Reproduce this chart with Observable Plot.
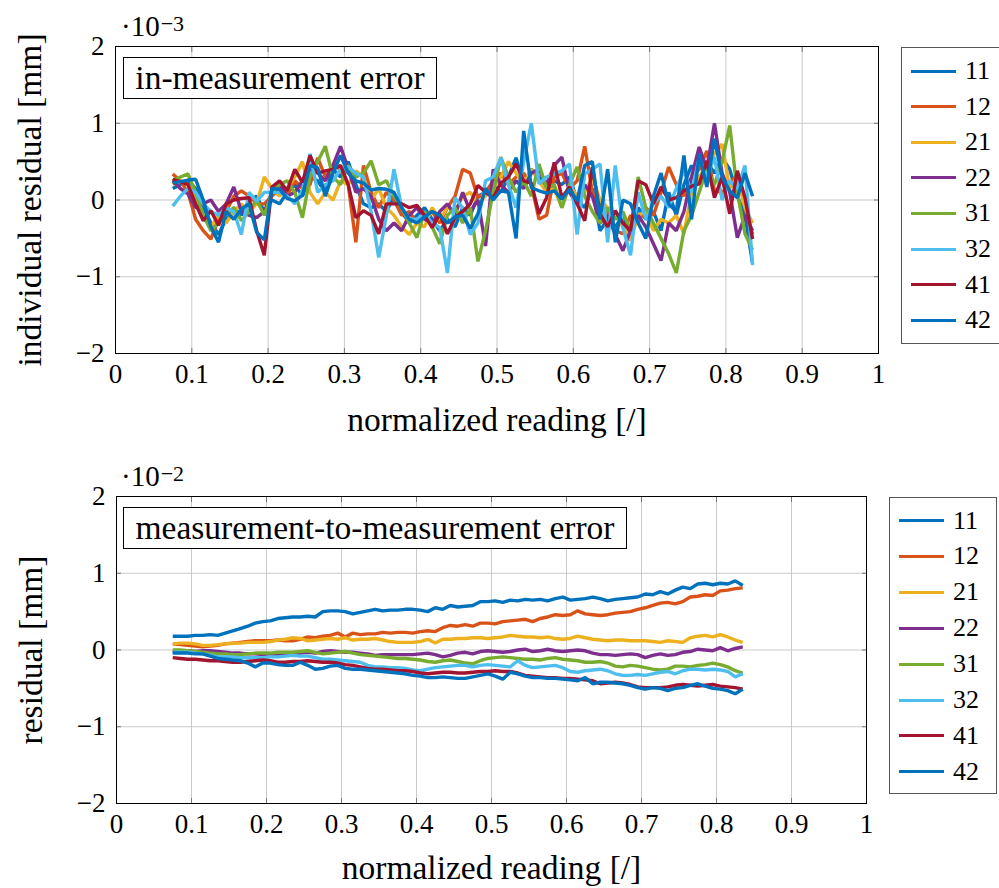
<!DOCTYPE html>
<html>
<head>
<meta charset="utf-8">
<script src="https://cdn.jsdelivr.net/npm/d3@7"></script>
<script src="https://cdn.jsdelivr.net/npm/@observablehq/plot@0.6"></script>
<style>
  body { margin: 0; background: #fff; }
  #fig { position: relative; width: 999px; height: 888px; overflow: hidden; background: #fff;
         font-family: "Liberation Serif", serif; color: #000; }
  #fig > svg { position: absolute; left: 0; }
  .note { position: absolute; box-sizing: border-box; border: 1.3px solid #000; background: #fff;
          font-size: 33.5px; line-height: 1; display: flex; align-items: center; justify-content: center;
          white-space: nowrap; }
  .expo { position: absolute; font-size: 29px; line-height: 1; white-space: nowrap; }
  .expo sup { font-size: 22px; position: relative; top: -5px; vertical-align: baseline; margin-left: 1px; }
  .legend { position: absolute; box-sizing: border-box; border: 1px solid #555; background: #fff; }
  .legend .swatch { position: absolute; width: 45px; height: 3px; }
  .legend .lab { position: absolute; font-size: 26px; line-height: 1; transform: translateY(-50%); }
</style>
</head>
<body>
<div id="fig"></div>
<script>
// Shared abscissa: normalized reading [/]
const reading = [0.075,0.085,0.095,0.105,0.115,0.125,0.135,0.145,0.155,0.165,
  0.175,0.185,0.195,0.205,0.215,0.225,0.235,0.245,0.255,0.265,
  0.275,0.285,0.295,0.305,0.315,0.325,0.335,0.345,0.355,0.365,
  0.375,0.385,0.395,0.405,0.415,0.425,0.435,0.445,0.455,0.465,
  0.475,0.485,0.495,0.505,0.515,0.525,0.535,0.545,0.555,0.565,
  0.575,0.585,0.595,0.605,0.615,0.625,0.635,0.645,0.655,0.665,
  0.675,0.685,0.695,0.705,0.715,0.725,0.735,0.745,0.755,0.765,
  0.775,0.785,0.795,0.805,0.815,0.825,0.835];

// Series identifiers and their line colours
const seriesIds = ["11","12","21","22","31","32","41","42"];
const seriesColors = ["#0072BD","#D95319","#EDB120","#7E2F8E","#77AC30","#4DBEEE","#A2142F","#0072BD"];

// In-measurement error, individual residual in units of 1e-3 mm
const inm11 = [.15,.20,.25,.15,-.10,-.30,-.45,-.25,-.10,-.20,
  .00,.05,-.15,.00,-.05,.10,.20,.05,.30,.25,
  .10,.40,.30,.50,.20,-.05,-.10,-.05,-.15,.05,
  -.15,-.30,-.20,-.10,-.25,-.40,-.25,-.35,-.10,-.20,
  .05,.10,.20,.10,.30,.55,.20,.40,.30,.15,
  .25,.20,.30,.00,-.10,.15,-.40,-.25,-.35,-.20,
  -.45,-.10,-.25,-.15,-.40,.10,-.20,.20,.45,.25,
  .50,.35,.55,.40,.05,-.20,-.83];
const inm12 = [.34,.25,.10,-.25,-.40,-.51,-.25,-.15,.05,.12,
  .05,-.05,-.05,.05,.15,.05,.25,.15,.20,.55,
  .30,.45,.40,.20,-.55,.45,.10,-.10,.10,.00,
  -.20,-.15,-.30,-.20,-.15,-.30,-.10,.05,.40,.35,
  .03,.10,.25,.35,.20,.30,.35,.20,-.25,-.20,
  .30,.35,.15,.25,.70,.10,-.05,-.15,-.40,-.44,
  -.20,-.30,-.10,-.20,.10,.43,.20,.05,.30,.40,
  .64,.12,.10,.20,.35,-.10,-.45];
const inm21 = [.20,.25,.20,.05,-.20,-.35,-.20,-.30,-.15,-.05,
  -.15,-.05,.30,.15,.05,.15,.30,.50,.10,-.05,
  .10,.00,.25,.20,.38,.30,.00,.15,-.10,-.20,
  -.35,-.45,-.30,-.35,-.10,-.25,-.10,-.15,.05,.10,
  -.05,.05,.15,.30,.50,.35,.20,.40,.25,.10,
  .15,-.10,.20,.05,.10,.30,.00,-.10,-.20,-.35,
  -.53,-.20,-.15,-.40,-.25,-.30,-.20,-.44,.10,.30,
  .45,.60,.73,.15,.30,-.10,-.30];
const inm22 = [.25,.15,.08,-.10,-.05,.00,-.15,-.05,.17,-.15,
  -.20,-.23,-.15,.10,.20,.05,.10,.25,.40,.35,
  .25,.45,.70,.40,.10,.15,.05,-.25,-.40,-.30,
  -.40,-.20,-.10,-.25,-.30,-.15,-.05,-.20,.10,-.15,
  .00,-.60,.40,.20,.10,.25,.15,.35,.40,.20,
  .45,.56,.10,-.05,.20,.05,-.30,-.20,-.45,-.66,
  -.40,-.20,-.35,-.57,-.79,-.30,-.40,-.15,.30,.69,
  .40,1.00,.35,.10,-.49,-.20,-.40];
const inm31 = [.25,.30,.34,.10,-.20,-.40,-.30,-.20,-.10,-.27,
  -.15,.00,-.20,.10,.20,.25,.10,-.23,.30,.50,
  .70,.30,.20,.45,.30,.35,.51,.20,.25,.05,
  -.10,-.30,-.49,-.15,-.35,-.57,-.20,-.10,-.30,-.10,
  -.80,-.40,.10,.56,.30,.10,.25,.05,.47,.15,
  .20,-.10,.20,.43,.05,-.15,-.30,-.10,-.25,-.15,
  -.40,.30,-.10,-.30,-.50,-.70,-.95,-.40,-.20,.10,
  .40,.20,.50,.97,.10,-.44,-.65];
const inm32 = [-.08,.05,.15,.10,-.05,-.15,-.20,-.10,-.15,-.45,
  .10,-.02,.10,.10,.10,.05,-.05,.12,.60,.10,
  .20,.25,.40,.43,.35,.30,-.15,-.75,-.20,.40,
  -.10,-.25,-.25,-.18,-.30,-.36,-.95,.03,-.10,-.45,
  -.30,.25,.30,.55,.20,-.10,.50,1.00,.21,.30,
  .34,.38,.47,-.45,.34,.40,.47,-.55,.45,-.36,
  -.72,.10,-.25,-.05,.05,-.10,.15,.38,.10,.55,
  .30,.56,.00,.25,.15,.45,-.85];
const inm41 = [.27,.24,.20,-.05,-.27,-.14,-.33,-.05,.00,.02,
  .03,-.40,-.72,.17,.25,.12,.40,.23,.58,.35,
  .38,.40,.45,.20,-.23,-.14,-.20,-.44,-.05,-.05,
  -.05,-.10,-.07,-.20,-.36,-.18,-.44,-.23,-.15,-.05,
  .19,.10,.03,.22,.30,.47,.25,.22,-.18,.03,
  .49,.03,.17,-.05,-.27,.43,-.18,-.35,-.14,-.30,
  -.40,.25,.20,-.05,.17,.00,.03,.12,.18,.21,
  .51,.03,.30,-.18,.38,.03,-.51];
const inm42 = [.22,.24,.26,.27,.00,-.35,-.55,-.15,-.25,-.12,
  -.05,-.42,-.52,.15,.14,.02,-.01,.06,.45,.42,
  .05,.35,.58,.35,.25,.22,.13,.15,.14,.10,
  -.10,-.25,-.30,-.22,-.15,-.20,-.30,-.22,-.20,-.37,
  -.18,.15,.00,.12,.10,-.50,.90,.16,.12,.09,
  .12,.01,.14,-.01,.45,.50,-.25,.40,-.55,.00,
  -.05,-.30,-.50,.05,.35,-.05,-.15,.58,-.25,.60,
  .17,.80,.30,.12,.03,.35,.05];

// Measurement-to-measurement error, residual in units of 1e-2 mm
const m2m11 = [.18,.18,.18,.19,.19,.20,.19,.22,.25,.28,
  .31,.35,.37,.38,.41,.42,.43,.43,.44,.43,
  .50,.51,.51,.50,.47,.49,.51,.53,.51,.52,
  .52,.53,.53,.52,.50,.55,.53,.58,.56,.57,
  .58,.63,.63,.64,.62,.65,.64,.66,.65,.66,
  .64,.67,.69,.65,.66,.67,.69,.67,.64,.66,
  .67,.68,.69,.73,.72,.76,.73,.78,.82,.80,
  .86,.87,.85,.87,.86,.90,.84];
const m2m12 = [.08,.07,.06,.05,.04,.05,.06,.08,.09,.10,
  .11,.12,.12,.12,.13,.12,.12,.14,.17,.16,
  .18,.19,.22,.17,.22,.20,.21,.21,.23,.22,
  .23,.23,.22,.24,.25,.24,.29,.32,.31,.33,
  .31,.35,.35,.34,.37,.38,.39,.40,.37,.41,
  .43,.46,.45,.46,.51,.47,.46,.45,.46,.48,
  .49,.50,.53,.55,.58,.61,.62,.60,.63,.69,
  .70,.72,.71,.77,.78,.80,.81];
const m2m21 = [.08,.09,.09,.08,.06,.06,.07,.08,.09,.09,
  .10,.10,.10,.11,.13,.14,.16,.15,.12,.13,
  .14,.15,.14,.16,.13,.14,.14,.15,.13,.11,
  .10,.10,.10,.11,.14,.09,.14,.14,.15,.15,
  .16,.16,.15,.16,.17,.19,.18,.17,.17,.16,
  .17,.15,.14,.15,.18,.16,.14,.13,.12,.13,
  .13,.12,.12,.12,.11,.10,.12,.11,.10,.16,
  .18,.19,.17,.20,.17,.13,.10];
const m2m22 = [-.02,-.02,-.01,-.02,-.01,-.01,-.02,-.03,-.04,-.04,
  -.05,-.05,-.06,-.05,-.06,-.06,-.05,-.04,-.03,-.04,
  -.02,-.01,-.02,-.03,-.03,-.04,-.05,-.07,-.06,-.06,
  -.06,-.06,-.06,-.05,-.04,-.06,-.09,-.07,-.04,-.03,
  -.05,-.02,-.01,-.02,-.03,-.02,.00,.01,-.02,-.01,
  .01,-.01,-.02,-.01,.00,-.01,-.04,-.06,-.06,-.07,
  -.06,-.05,-.06,-.10,-.07,-.05,-.07,-.06,-.03,-.02,
  .01,.00,-.01,.03,-.01,.02,.04];
const m2m31 = [.00,.00,-.01,-.02,-.03,-.04,-.05,-.05,-.06,-.06,
  -.05,-.04,-.04,-.04,-.03,-.03,-.03,-.02,-.01,-.03,
  -.05,-.04,-.03,-.02,-.04,-.06,-.07,-.08,-.09,-.10,
  -.11,-.11,-.12,-.13,-.15,-.16,-.14,-.13,-.15,-.17,
  -.18,-.14,-.11,-.10,-.09,-.10,-.11,-.12,-.12,-.13,
  -.11,-.10,-.12,-.13,-.14,-.16,-.16,-.15,-.17,-.21,
  -.22,-.20,-.21,-.23,-.25,-.26,-.25,-.21,-.21,-.22,
  -.20,-.19,-.17,-.19,-.22,-.27,-.30];
const m2m32 = [-.03,-.03,-.03,-.04,-.05,-.07,-.09,-.09,-.09,-.10,
  -.10,-.10,-.10,-.09,-.09,-.08,-.07,-.08,-.08,-.10,
  -.12,-.12,-.13,-.14,-.15,-.16,-.20,-.22,-.22,-.23,
  -.23,-.24,-.26,-.27,-.25,-.23,-.22,-.21,-.20,-.20,
  -.22,-.20,-.19,-.20,-.21,-.22,-.14,-.20,-.23,-.22,
  -.21,-.20,-.23,-.28,-.29,-.27,-.26,-.25,-.27,-.31,
  -.33,-.33,-.32,-.33,-.31,-.29,-.28,-.31,-.27,-.25,
  -.25,-.26,-.25,-.26,-.28,-.35,-.31];
const m2m41 = [-.10,-.11,-.12,-.12,-.13,-.14,-.14,-.15,-.16,-.16,
  -.15,-.14,-.13,-.14,-.16,-.16,-.15,-.15,-.14,-.15,
  -.16,-.16,-.17,-.19,-.20,-.22,-.24,-.25,-.25,-.26,
  -.27,-.27,-.28,-.30,-.31,-.30,-.29,-.29,-.30,-.30,
  -.29,-.28,-.28,-.27,-.28,-.28,-.30,-.33,-.34,-.35,
  -.36,-.36,-.37,-.37,-.38,-.39,-.40,-.44,-.43,-.42,
  -.43,-.45,-.48,-.49,-.49,-.49,-.48,-.46,-.45,-.46,
  -.47,-.46,-.45,-.47,-.48,-.49,-.51];
const m2m42 = [-.04,-.04,-.04,-.05,-.05,-.08,-.11,-.12,-.13,-.14,
  -.17,-.22,-.17,-.17,-.19,-.20,-.20,-.16,-.20,-.25,
  -.24,-.21,-.20,-.24,-.25,-.25,-.26,-.27,-.28,-.29,
  -.30,-.31,-.33,-.34,-.36,-.36,-.35,-.36,-.37,-.37,
  -.35,-.33,-.31,-.34,-.38,-.29,-.31,-.34,-.36,-.36,
  -.37,-.37,-.38,-.39,-.40,-.36,-.44,-.42,-.42,-.43,
  -.44,-.46,-.49,-.51,-.49,-.50,-.53,-.50,-.49,-.46,
  -.44,-.47,-.50,-.51,-.53,-.57,-.51];

// Axis ticks and their labels
const xTicks = [0,0.1,0.2,0.3,0.4,0.5,0.6,0.7,0.8,0.9,1];
const xTickLabels = ["0","0.1","0.2","0.3","0.4","0.5","0.6","0.7","0.8","0.9","1"];
const yTicks = [-2,-1,0,1,2];
const yTickLabels = ["\u22122","\u22121","0","1","2"];

const FONT = "Liberation Serif";
const TICK_FS = 27;
const TITLE_FS = 33.5;

function toRows(seriesList) {
  const rows = [];
  seriesList.forEach((vals, k) => {
    vals.forEach((v, i) => rows.push({id: seriesIds[k], reading: reading[i], value: v}));
  });
  return rows;
}

function panel(rows, o) {
  const xLab = new Map(xTicks.map((t, i) => [t, xTickLabels[i]]));
  const yLab = new Map(yTicks.map((t, i) => [t, yTickLabels[i]]));
  const grid = {stroke: "#cacaca", strokeOpacity: 1, strokeWidth: 1};
  const inner = {stroke: "#777", strokeOpacity: 1, strokeWidth: 1, text: null, label: null};
  return Plot.plot({
    width: 999, height: o.height,
    marginLeft: o.ml, marginRight: o.mr, marginTop: o.mt, marginBottom: o.mb,
    style: {fontFamily: FONT, fontSize: TICK_FS + "px", background: "transparent", overflow: "visible"},
    x: {domain: [0, 1]},
    y: {domain: [-2, 2]},
    color: {domain: seriesIds, range: seriesColors},
    marks: [
      Plot.gridX(xTicks, grid),
      Plot.gridY(yTicks, grid),
      // short inward ticks on all four sides
      Plot.axisX(xTicks, {...inner, anchor: "bottom", tickSize: -5}),
      Plot.axisX(xTicks, {...inner, anchor: "top", tickSize: -5}),
      Plot.axisY(yTicks, {...inner, anchor: "left", tickSize: -5}),
      Plot.axisY(yTicks, {...inner, anchor: "right", tickSize: -5}),
      Plot.line(rows, {x: "reading", y: "value", z: "id", stroke: "id",
        strokeWidth: 3.4, strokeLinejoin: "miter", strokeLinecap: "butt"}),
      Plot.frame({stroke: "#000", strokeWidth: 1}),
      Plot.axisX(xTicks, {anchor: "bottom", tickSize: 0, tickPadding: 10, fontSize: TICK_FS, label: null,
        tickFormat: d => xLab.get(d)}),
      Plot.axisY(yTicks, {anchor: "left", tickSize: 0, tickPadding: 11, fontSize: TICK_FS, label: null,
        tickFormat: d => yLab.get(d)}),
      Plot.text([o.xTitle], {frameAnchor: "bottom", dy: o.xTitleDy, lineAnchor: "middle",
        text: d => d, fontSize: TITLE_FS}),
      Plot.text([o.yTitle], {frameAnchor: "left", dx: -85, rotate: -90, textAnchor: "middle",
        lineAnchor: "middle", text: d => d, fontSize: TITLE_FS})
    ]
  });
}

const fig = document.getElementById("fig");

const upperPanel = panel(toRows([inm11, inm12, inm21, inm22, inm31, inm32, inm41, inm42]), {
  height: 445, ml: 115, mr: 121, mt: 46, mb: 92,
  xTitle: "normalized reading [/]", xTitleDy: 67, yTitle: "individual residual [mm]"
});
upperPanel.style.top = "0px";
fig.appendChild(upperPanel);

const lowerPanel = panel(toRows([m2m11, m2m12, m2m21, m2m22, m2m31, m2m32, m2m41, m2m42]), {
  height: 443, ml: 116, mr: 133, mt: 51, mb: 85,
  xTitle: "normalized reading [/]", xTitleDy: 65, yTitle: "residual [mm]"
});
lowerPanel.style.top = "445px";
fig.appendChild(lowerPanel);

// Scale factor notes above each axis
function expo(left, topPx, power) {
  const d = document.createElement("div");
  d.className = "expo";
  d.style.left = left + "px";
  d.style.top = topPx + "px";
  d.innerHTML = "\u00b710<sup>\u2212" + power + "</sup>";
  fig.appendChild(d);
}
expo(121, 12, 3);
expo(121, 462, 2);

// Boxed panel titles
function note(text, left, topPx, w, h) {
  const d = document.createElement("div");
  d.className = "note";
  Object.assign(d.style, {left: left + "px", top: topPx + "px", width: w + "px", height: h + "px"});
  d.textContent = text;
  fig.appendChild(d);
}
note("in-measurement error", 123, 57, 314, 42);
note("measurement-to-measurement error", 123, 507, 504, 42);

// Legends
function legend(left, topPx, w, h, firstRow, step) {
  const box = document.createElement("div");
  box.className = "legend";
  Object.assign(box.style, {left: left + "px", top: topPx + "px", width: w + "px", height: h + "px"});
  seriesIds.forEach((id, k) => {
    const y = firstRow + k * step - topPx;
    const sw = document.createElement("div");
    sw.className = "swatch";
    Object.assign(sw.style, {left: "9px", top: (y - 1.5) + "px", background: seriesColors[k]});
    const lab = document.createElement("div");
    lab.className = "lab";
    Object.assign(lab.style, {left: "63px", top: y + "px"});
    lab.textContent = id;
    box.appendChild(sw);
    box.appendChild(lab);
  });
  fig.appendChild(box);
}
legend(901, 47, 110, 297, 70, 35.6);
legend(889, 497, 108, 297, 519.5, 35.9);
</script>
</body>
</html>
